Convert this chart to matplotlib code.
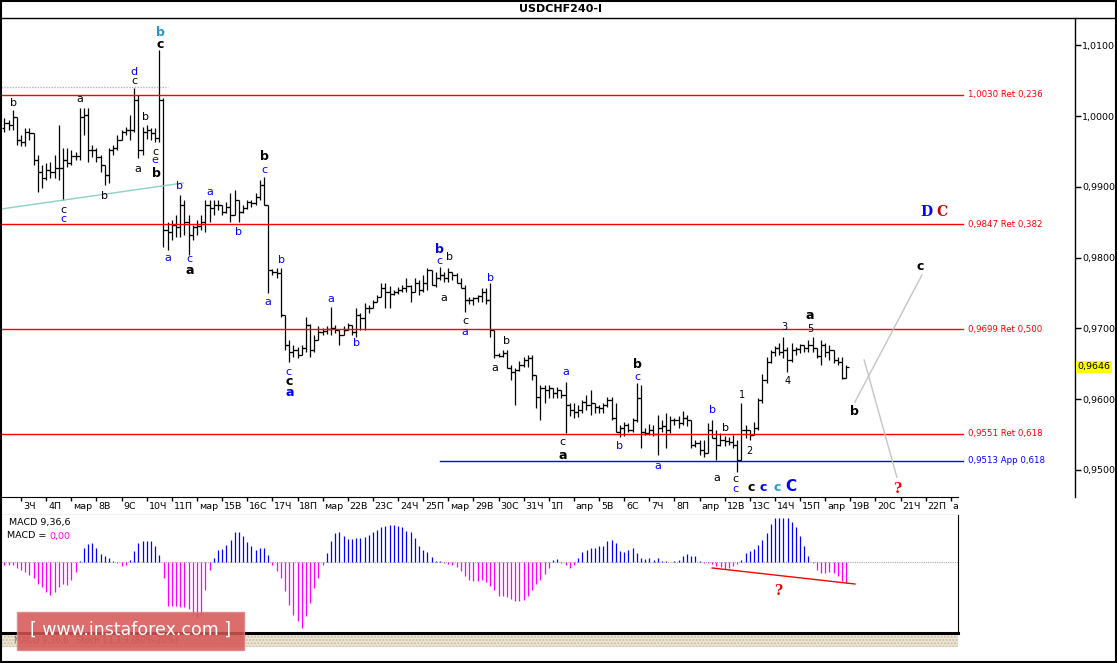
import matplotlib.pyplot as plt
import matplotlib.transforms as mtransforms
from matplotlib.patches import Rectangle
from matplotlib.lines import Line2D

# -------------------------
# Price data (H4 bars, in 1/10000)
# -------------------------
opens = [9983, 9990, 9987, 9999, 9966, 9963, 9977, 9976, 9938, 9921,
         9912, 9924, 9921, 9927, 9927, 9938, 9934, 9944, 9944, 9999,
         10001, 9952, 9952, 9942, 9931, 9917, 9952, 9955, 9966, 9977,
         9980, 9980, 10023, 9952, 9977, 9980, 9976, 9969, 10023, 9839,
         9836, 9846, 9843, 9874, 9850, 9832, 9843, 9845, 9850, 9874,
         9870, 9874, 9874, 9864, 9872, 9860, 9881, 9864, 9870, 9878,
         9877, 9886, 9903, 9874, 9782, 9780, 9778, 9719, 9677, 9667,
         9669, 9662, 9672, 9705, 9669, 9684, 9695, 9696, 9699, 9701,
         9698, 9691, 9698, 9705, 9695, 9719, 9715, 9729, 9729, 9737,
         9744, 9757, 9751, 9749, 9751, 9754, 9757, 9760, 9751, 9764,
         9754, 9764, 9782, 9761, 9771, 9776, 9771, 9780, 9775, 9764,
         9757, 9740, 9740, 9743, 9746, 9751, 9740, 9698, 9662, 9661,
         9665, 9644, 9638, 9641, 9648, 9655, 9658, 9634, 9603, 9616,
         9613, 9616, 9609, 9613, 9606, 9592, 9585, 9582, 9585, 9596,
         9592, 9594, 9589, 9588, 9592, 9599, 9574, 9554, 9560, 9564,
         9557, 9571, 9602, 9554, 9552, 9556, 9551, 9560, 9562, 9556,
         9570, 9571, 9566, 9574, 9570, 9535, 9538, 9528, 9524, 9556,
         9545, 9535, 9542, 9541, 9540, 9535, 9514, 9556, 9556, 9549,
         9560, 9599, 9627, 9653, 9667, 9672, 9667, 9669, 9655, 9669,
         9671, 9676, 9672, 9677, 9672, 9661, 9677, 9667, 9669, 9655,
         9652, 9630]
highs = [9997, 9994, 10008, 9999, 9973, 9983, 9983, 9976, 9945, 9931,
         9934, 9935, 9945, 9987, 9955, 9955, 9952, 9949, 10011, 10011,
         10011, 9959, 9955, 9945, 9931, 9955, 9959, 9973, 9980, 9984,
         10001, 10040, 10030, 9984, 9987, 9983, 9983, 10093, 10025, 9850,
         9853, 9860, 9888, 9881, 9860, 9846, 9853, 9860, 9881, 9881,
         9881, 9881, 9874, 9878, 9891, 9895, 9881, 9874, 9881, 9881,
         9891, 9910, 9914, 9874, 9784, 9785, 9785, 9719, 9684, 9677,
         9674, 9677, 9716, 9706, 9691, 9704, 9701, 9704, 9730, 9705,
         9698, 9704, 9708, 9705, 9729, 9722, 9736, 9733, 9740, 9747,
         9764, 9764, 9760, 9754, 9758, 9761, 9771, 9761, 9771, 9768,
         9775, 9785, 9782, 9780, 9787, 9780, 9785, 9780, 9778, 9771,
         9761, 9744, 9744, 9747, 9757, 9757, 9764, 9698, 9665, 9669,
         9669, 9648, 9644, 9654, 9659, 9662, 9662, 9634, 9620, 9620,
         9620, 9616, 9617, 9613, 9624, 9595, 9594, 9592, 9599, 9606,
         9613, 9594, 9592, 9594, 9603, 9603, 9595, 9564, 9568, 9567,
         9573, 9623, 9620, 9560, 9565, 9564, 9578, 9571, 9581, 9576,
         9574, 9576, 9583, 9578, 9571, 9542, 9542, 9542, 9566, 9571,
         9556, 9552, 9548, 9547, 9549, 9542, 9595, 9564, 9556, 9568,
         9601, 9636, 9659, 9669, 9675, 9679, 9688, 9674, 9679, 9674,
         9678, 9677, 9684, 9688, 9672, 9684, 9680, 9677, 9669, 9659,
         9659, 9649]
lows = [9977, 9980, 9980, 9959, 9958, 9958, 9966, 9931, 9893, 9899,
        9910, 9912, 9912, 9910, 9881, 9928, 9931, 9938, 9938, 9973,
        9935, 9942, 9935, 9921, 9903, 9906, 9945, 9952, 9966, 9973,
        9966, 9978, 9941, 9945, 9967, 9966, 9963, 9963, 9815, 9811,
        9825, 9829, 9829, 9832, 9804, 9825, 9832, 9839, 9836, 9850,
        9860, 9867, 9860, 9863, 9850, 9860, 9850, 9863, 9868, 9871,
        9874, 9881, 9874, 9750, 9775, 9771, 9716, 9669, 9653, 9660,
        9658, 9662, 9667, 9660, 9667, 9684, 9691, 9692, 9691, 9694,
        9677, 9691, 9698, 9691, 9688, 9698, 9698, 9722, 9729, 9737,
        9744, 9729, 9729, 9747, 9749, 9751, 9751, 9737, 9751, 9747,
        9751, 9754, 9761, 9758, 9768, 9766, 9766, 9768, 9764, 9757,
        9723, 9735, 9733, 9737, 9737, 9735, 9688, 9658, 9660, 9660,
        9644, 9627, 9592, 9640, 9645, 9645, 9627, 9588, 9571, 9595,
        9602, 9602, 9602, 9602, 9552, 9576, 9573, 9575, 9581, 9585,
        9578, 9580, 9580, 9581, 9589, 9571, 9554, 9547, 9548, 9553,
        9553, 9568, 9531, 9549, 9549, 9548, 9521, 9554, 9531, 9552,
        9563, 9560, 9563, 9562, 9531, 9532, 9521, 9518, 9524, 9545,
        9514, 9534, 9534, 9535, 9531, 9497, 9514, 9545, 9542, 9549,
        9557, 9595, 9623, 9651, 9661, 9662, 9658, 9638, 9652, 9662,
        9665, 9667, 9666, 9666, 9658, 9648, 9660, 9655, 9651, 9648,
        9628, 9630]
closes = [9990, 9987, 9999, 9966, 9963, 9977, 9976, 9938, 9921, 9912,
          9924, 9921, 9927, 9927, 9938, 9934, 9944, 9944, 9999, 10001,
          9952, 9952, 9942, 9931, 9917, 9952, 9955, 9966, 9977, 9980,
          9980, 10023, 9952, 9977, 9980, 9976, 9969, 10023, 9839, 9836,
          9846, 9843, 9874, 9850, 9832, 9843, 9845, 9850, 9874, 9870,
          9874, 9874, 9864, 9872, 9860, 9881, 9864, 9870, 9878, 9877,
          9886, 9903, 9874, 9782, 9780, 9778, 9719, 9677, 9667, 9669,
          9662, 9672, 9705, 9669, 9684, 9695, 9696, 9699, 9701, 9698,
          9691, 9698, 9705, 9695, 9719, 9715, 9729, 9729, 9737, 9744,
          9757, 9751, 9749, 9751, 9754, 9757, 9760, 9751, 9764, 9754,
          9764, 9782, 9761, 9771, 9776, 9771, 9780, 9775, 9764, 9757,
          9740, 9740, 9743, 9746, 9751, 9740, 9698, 9662, 9661, 9665,
          9644, 9638, 9641, 9648, 9655, 9658, 9634, 9603, 9616, 9613,
          9616, 9609, 9613, 9606, 9592, 9585, 9582, 9585, 9596, 9592,
          9594, 9589, 9588, 9592, 9599, 9574, 9554, 9560, 9564, 9557,
          9571, 9602, 9554, 9552, 9556, 9551, 9560, 9562, 9556, 9570,
          9571, 9566, 9574, 9570, 9535, 9538, 9528, 9524, 9556, 9545,
          9535, 9542, 9541, 9540, 9535, 9514, 9556, 9556, 9549, 9560,
          9599, 9627, 9653, 9667, 9672, 9667, 9669, 9655, 9669, 9671,
          9676, 9672, 9677, 9672, 9661, 9677, 9667, 9669, 9655, 9652,
          9630, 9646]

# MACD histogram (1e-5)
macd_hist = [-3, -3, -3, -6, -8, -10, -13, -16, -22, -25,
             -30, -33, -30, -25, -22, -23, -18, -10, 1, 14,
             18, 19, 14, 8, 6, 4, 1, -1, -4, -3,
             2, 11, 19, 21, 21, 21, 16, 7, -16, -44,
             -44, -44, -45, -45, -47, -52, -55, -53, -28, -8,
             4, 12, 13, 17, 22, 30, 30, 26, 20, 16,
             12, 14, 14, 7, -3, -9, -16, -29, -43, -53,
             -59, -66, -54, -41, -26, -16, -3, 9, 21, 29,
             30, 26, 23, 23, 24, 24, 25, 27, 30, 32,
             35, 36, 37, 37, 36, 35, 31, 30, 24, 16,
             12, 10, 5, 1, 1, -1, -2, -3, -5, -9,
             -14, -18, -19, -19, -18, -20, -24, -28, -34, -34,
             -35, -37, -39, -39, -38, -34, -28, -22, -18, -12,
             -6, 2, 3, -1, -3, -6, -3, 4, 10, 12,
             14, 14, 16, 16, 21, 22, 19, 11, 10, 12,
             14, 9, 4, 3, 4, 2, 4, 1, 1, 0,
             1, 2, 6, 8, 6, 6, 1, -1, -1, -2,
             -4, -5, -7, -6, -4, -2, 2, 9, 11, 13,
             17, 22, 29, 38, 44, 44, 44, 44, 40, 35,
             26, 16, 6, -1, -8, -11, -11, -10, -11, -14,
             -19, -21]

# Day labels on the time axis (first bar of each day)
day_labels = ['3Ч', '4П', 'мар', '8В', '9С', '10Ч', '11П', 'мар', '15В', '16С',
              '17Ч', '18П', 'мар', '22В', '23С', '24Ч', '25П', 'мар', '29В', '30С',
              '31Ч', '1П', 'апр', '5В', '6С', '7Ч', '8П', 'апр', '12В', '13С',
              '14Ч', '15П', 'апр', '19В', '20С', '21Ч', '22П', 'апр']
first_day_bar = 4
bars_per_day = 6

# Fibonacci levels
fib_levels = [1.0030, 0.9847, 0.9699, 0.9551]
fib_names = ['1,0030 Ret 0,236', '0,9847 Ret 0,382', '0,9699 Ret 0,500', '0,9551 Ret 0,618']
app_level = 0.9513
app_name = '0,9513 App 0,618'
last_price = 0.9646

# Wave labels: bar position, price, text, colour, size, weight
BLK, BLU, CYN = 'black', '#0000ff', '#1e9ad6'
wave_labels = [
    (2.1, 1.00184, 'b', BLK, 8, 'normal'),
    (14.0, 0.98672, 'c', BLK, 8, 'normal'), (14.0, 0.98545, 'c', BLU, 8, 'normal'),
    (18.1, 1.00240, 'a', BLK, 8, 'normal'),
    (24.0, 0.98870, 'b', BLK, 8, 'normal'),
    (31.0, 1.00621, 'd', BLU, 8, 'normal'), (31.0, 1.00494, 'c', BLK, 8, 'normal'),
    (33.8, 0.99986, 'b', BLK, 8, 'normal'),
    (31.9, 0.99251, 'a', BLK, 8, 'normal'),
    (36.0, 0.99492, 'c', BLK, 8, 'normal'), (36.0, 0.99379, 'e', BLU, 8, 'normal'),
    (36.2, 0.99181, 'b', BLK, 9, 'bold'),
    (37.2, 1.01186, 'b', CYN, 9, 'bold'), (37.2, 1.01003, 'c', BLK, 9, 'bold'),
    (41.9, 0.99011, 'b', BLU, 8, 'normal'),
    (39.1, 0.97994, 'a', BLU, 8, 'normal'),
    (44.1, 0.97975, 'c', BLU, 8, 'normal'), (44.3, 0.97815, 'a', BLK, 9, 'bold'),
    (49.1, 0.98927, 'a', BLU, 8, 'normal'),
    (56.0, 0.98362, 'b', BLU, 8, 'normal'),
    (62.0, 0.99237, 'c', BLU, 8, 'normal'), (62.2, 0.99435, 'b', BLK, 9, 'bold'),
    (66.1, 0.97966, 'b', BLU, 8, 'normal'),
    (62.9, 0.97373, 'a', BLU, 8, 'normal'),
    (67.9, 0.96384, 'c', BLU, 8, 'normal'), (67.9, 0.96243, 'c', BLK, 9, 'bold'),
    (68.2, 0.96088, 'a', BLU, 9, 'bold'),
    (78.0, 0.97415, 'a', BLU, 8, 'normal'),
    (84.0, 0.96794, 'b', BLU, 8, 'normal'),
    (104.0, 0.98118, 'b', BLU, 9, 'bold'), (104.0, 0.97950, 'c', BLU, 8, 'normal'),
    (106.4, 0.98008, 'b', BLK, 8, 'normal'),
    (105.0, 0.97429, 'a', BLK, 8, 'normal'),
    (110.0, 0.97105, 'c', BLK, 8, 'normal'), (110.0, 0.96949, 'a', BLU, 8, 'normal'),
    (116.0, 0.97712, 'b', BLU, 8, 'normal'),
    (120.0, 0.96822, 'b', BLK, 8, 'normal'),
    (117.2, 0.96441, 'a', BLK, 8, 'normal'),
    (134.1, 0.96384, 'a', BLU, 8, 'normal'),
    (133.2, 0.95395, 'c', BLK, 8, 'normal'), (133.4, 0.95198, 'a', BLK, 9, 'bold'),
    (147.0, 0.95339, 'b', BLU, 8, 'normal'),
    (151.1, 0.96497, 'b', BLK, 9, 'bold'), (151.1, 0.96314, 'c', BLU, 8, 'normal'),
    (156.1, 0.95056, 'a', BLU, 8, 'normal'),
    (169.2, 0.95847, 'b', BLU, 8, 'normal'),
    (172.1, 0.95593, 'b', BLK, 8, 'normal'),
    (170.2, 0.94887, 'a', BLK, 8, 'normal'),
    (174.5, 0.94873, 'c', BLK, 8, 'normal'), (174.5, 0.94732, 'c', BLU, 8, 'normal'),
    (176.1, 0.96059, '1', BLK, 7, 'normal'),
    (178.0, 0.95268, '2', BLK, 7, 'normal'),
    (186.2, 0.97020, '3', BLK, 7, 'normal'),
    (187.1, 0.96257, '4', BLK, 7, 'normal'),
    (192.4, 0.96992, '5', BLK, 7, 'normal'),
    (192.4, 0.97189, 'a', BLK, 9, 'bold'),
    (178.3, 0.94746, 'c', BLK, 9, 'bold'), (181.1, 0.94746, 'c', BLU, 9, 'bold'),
    (184.5, 0.94746, 'c', CYN, 9, 'bold'), (187.8, 0.94760, 'C', BLU, 11, 'bold'),
    (203.1, 0.95833, 'b', BLK, 9, 'bold'),
    (218.6, 0.97881, 'c', BLK, 9, 'bold'),
]

# -------------------------
# Figure in pixel layout
# -------------------------
W, H = 1117, 663
fig = plt.figure(figsize=(W / 100, H / 100), dpi=100)
fig.patch.set_facecolor('white')


def rect(x0, y0, x1, y1):
    return [x0 / W, 1 - y1 / H, (x1 - x0) / W, (y1 - y0) / H]


def ftext(x, y, s, **kw):
    return fig.text(x / W, 1 - y / H, s, **kw)


n = len(closes)
xs = list(range(n))
to_p = lambda v: v / 10000.0
X0, XMAIN, XSUB = -0.8, 255.65, 227.7

# -------------------------
# Price panel
# -------------------------
ax = fig.add_axes(rect(1, 18, 1075, 497))
ax.set_xlim(X0, XMAIN)
ax.set_ylim(0.946186, 1.013842)
for s in ['left', 'top', 'bottom']:
    ax.spines[s].set_visible(False)
ax.spines['right'].set_linewidth(1.0)
ax.set_xticks([])
ax.yaxis.tick_right()
ax.set_yticks([0.95, 0.96, 0.97, 0.98, 0.99, 1.00, 1.01])
ax.set_yticklabels(['0,9500', '0,9600', '0,9700', '0,9800', '0,9900', '1,0000', '1,0100'])
ax.tick_params(axis='y', direction='out', length=4, width=1, labelsize=6.8, pad=1)

# OHLC bars
ax.vlines(xs, [to_p(v) for v in lows], [to_p(v) for v in highs], color='black', lw=0.9)
ax.hlines([to_p(v) for v in opens], [x - 0.65 for x in xs], xs, color='black', lw=0.9)
ax.hlines([to_p(v) for v in closes], xs, [x + 0.65 for x in xs], color='black', lw=0.9)

# Fibonacci lines
line_end = 228.9
for lvl, name in zip(fib_levels, fib_names):
    ax.plot([X0, line_end], [lvl, lvl], color='#ff0000', lw=1.0)
    ax.text(line_end + 1.2, lvl, name, color='#ff0000', fontsize=6.2, va='center', ha='left')
ax.plot([104.0, line_end], [app_level, app_level], color='#0000ff', lw=1.0)
ax.text(line_end + 1.2, app_level, app_name, color='#0000ff', fontsize=6.2, va='center', ha='left')

# channel / trend lines
ax.plot([X0, 39.1], [1.0041, 1.0041], color='#9fb9bd', lw=1.0, ls=(0, (1, 1)))
ax.plot([X0, 42.7], [0.98686, 0.99054], color='#8ccfc4', lw=1.0)

# forecast lines
ax.plot([203.1, 219.1], [0.95960, 0.97754], color='#c4c4cc', lw=1.0)
ax.plot([205.3, 213.1], [0.96554, 0.94901], color='#c4c4cc', lw=1.0)

# wave labels
for bx, py, txt, col, size, weight in wave_labels:
    ax.text(bx, py, txt, color=col, fontsize=size, fontweight=weight, ha='center', va='center')
ax.text(220.1, 0.98644, 'D', color='#0000ff', fontsize=10, fontweight='bold',
        family='DejaVu Serif', ha='center', va='center')
ax.text(223.9, 0.98644, 'C', color='#cc0000', fontsize=10, fontweight='bold',
        family='DejaVu Serif', ha='center', va='center')
ax.text(213.1, 0.94732, '?', color='#ff0000', fontsize=10, fontweight='bold',
        family='DejaVu Serif', ha='center', va='center')

# current price tag
trans = mtransforms.blended_transform_factory(ax.transAxes, ax.transData)
ax.text(1.0025, last_price, '0,9646', transform=trans, fontsize=6.8, va='center', ha='left',
        bbox=dict(boxstyle='square,pad=0.15', fc='#ffff00', ec='none'))

# -------------------------
# Date band
# -------------------------
axd = fig.add_axes(rect(1, 497, 958, 515))
axd.set_xlim(X0, XSUB)
axd.set_ylim(0, 1)
axd.set_facecolor('white')
for s in ['left', 'right']:
    axd.spines[s].set_visible(False)
day_pos = [first_day_bar + bars_per_day * k for k in range(len(day_labels))]
axd.set_xticks(day_pos)
axd.set_xticklabels([])
axd.set_yticks([])
axd.tick_params(axis='x', top=True, bottom=False, direction='in', length=3, width=1)
for p, lab in zip(day_pos, day_labels):
    axd.text(p + 0.45, 0.45, lab, fontsize=6.8, ha='left', va='center', clip_on=True)

# -------------------------
# MACD panel
# -------------------------
axm = fig.add_axes(rect(1, 515, 958, 633))
axm.set_xlim(X0, XSUB)
axm.set_ylim(-71, 47)
axm.spines['left'].set_visible(False)
axm.spines['top'].set_visible(False)
axm.spines['bottom'].set_linewidth(2.2)
axm.set_xticks([])
axm.set_yticks([])
axm.axhline(0, color='#a8a8a8', lw=0.8, ls=(0, (1, 1)))
cols = ['#0000ff' if v > 0 else '#ff00ff' for v in macd_hist]
axm.vlines(xs, 0, macd_hist, colors=cols, lw=0.9)
axm.plot([169.0, 203.1], [-6, -22], color='#ff0000', lw=1.0)
axm.text(184.7, -29, '?', color='#ff0000', fontsize=10, fontweight='bold',
         family='DejaVu Serif', ha='center', va='center')
ftext(9, 523, 'MACD 9,36,6', fontsize=6.8, va='center')
ftext(7, 536, 'MACD =', fontsize=6.8, va='center')
ftext(49, 536, '0,00', fontsize=6.8, va='center', color='#ff00ff')

# hatched strip with indicator tabs (partly hidden by the watermark)
strip = Rectangle((1 / W, 1 - 647 / H), 957 / W, 12 / H, transform=fig.transFigure,
                  facecolor='#ebe5d5', edgecolor='#cbbf9f', hatch='.....', lw=0, zorder=1)
fig.add_artist(strip)
ftext(14, 641, 'MACD 9,36,6', fontsize=6, va='center', color='#707070', zorder=2)
ftext(76, 641, 'Stoch 13,3,3 (80%-20%)', fontsize=6, va='center', color='#707070', zorder=2)

# watermark
wm = Rectangle((17 / W, 1 - 650 / H), 227 / W, 38 / H, transform=fig.transFigure,
               facecolor='#d65454', edgecolor='#e08080', lw=1, alpha=0.85, zorder=5)
fig.add_artist(wm)
ftext(131, 630, '[ www.instaforex.com ]', fontsize=12.5, color='white', ha='center',
      va='center', zorder=6)

# -------------------------
# Title bar and frame
# -------------------------
ftext(560, 9, 'USDCHF240-I', fontsize=8, fontweight='bold', ha='center', va='center')
fig.add_artist(Line2D([0, 1], [1 - 18 / H, 1 - 18 / H], transform=fig.transFigure,
                      color='black', lw=1.0))
fig.add_artist(Rectangle((0.0005, 0.001), 0.999, 0.998, transform=fig.transFigure,
                         fill=False, edgecolor='black', lw=1.5))

fig.savefig('out.png', dpi=100)
